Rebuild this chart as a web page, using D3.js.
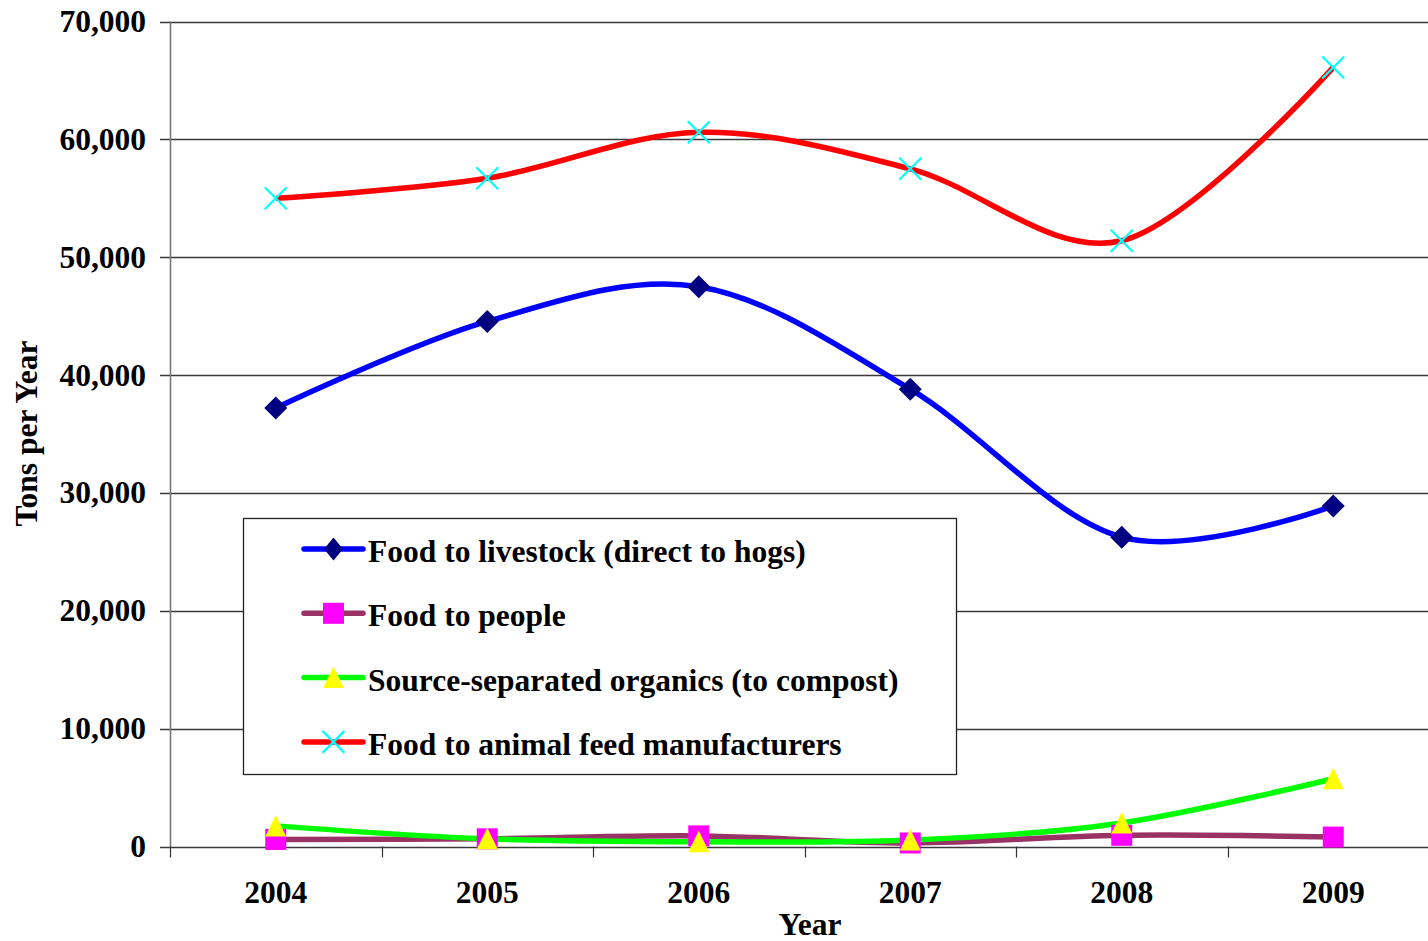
<!DOCTYPE html>
<html>
<head>
<meta charset="utf-8">
<script src="https://cdn.jsdelivr.net/npm/d3@7"></script>
<style>
  html, body { margin: 0; padding: 0; background: #fff; }
  svg { display: block; }
  text { font-family: "Liberation Serif", "Times New Roman", serif; font-weight: bold; fill: #000; }
</style>
</head>
<body>
<svg id="chart" width="1428" height="941"></svg>
<script>
// Food waste diversion, tons per year
const years = ["2004", "2005", "2006", "2007", "2008", "2009"];
const livestock = [37200, 44550, 47500, 38800, 26250, 28900];
const people = [600, 650, 900, 300, 950, 800];
const compost = [1750, 650, 400, 550, 2000, 5750];
const animalFeed = [55000, 56700, 60600, 57500, 51400, 66100];
const yTicks = [0, 10000, 20000, 30000, 40000, 50000, 60000, 70000];
const seriesNames = [
  "Food to livestock (direct to hogs)",
  "Food to people",
  "Source-separated organics (to compost)",
  "Food to animal feed manufacturers"
];

const series = [
  { name: seriesNames[0], values: livestock, line: "#0000ff", marker: "diamond", fill: "#000080" },
  { name: seriesNames[1], values: people, line: "#993366", marker: "square", fill: "#ff00ff" },
  { name: seriesNames[2], values: compost, line: "#00ff00", marker: "triangle", fill: "#ffff00" },
  { name: seriesNames[3], values: animalFeed, line: "#ff0000", marker: "cross", fill: "#00ffff" }
];

const FONT = 31.5;
const svg = d3.select("#chart");
const plotLeft = 170, plotRight = 1439, plotTop = 21.5, plotBottom = 846.5;

const x = d3.scaleBand().domain(years).range([plotLeft, plotRight]);
const cx = d => x(d) + x.bandwidth() / 2;
const y = d3.scaleLinear().domain([0, 70000]).range([plotBottom, plotTop]);

// horizontal gridlines with small outer ticks
const grid = svg.append("g");
grid.selectAll("line").data(yTicks).join("line")
  .attr("x1", plotLeft - 10).attr("x2", 1428)
  .attr("y1", d => Math.round(y(d)) + 0.5).attr("y2", d => Math.round(y(d)) + 0.5)
  .attr("stroke", "#3a3a3a").attr("stroke-width", 1.3);

// y axis labels
const fmt = d3.format(",");
svg.append("g").selectAll("text").data(yTicks).join("text")
  .attr("x", 146).attr("y", d => y(d) + 10.5)
  .attr("text-anchor", "end").attr("font-size", FONT)
  .text(d => fmt(d));

// vertical axis line
svg.append("line")
  .attr("x1", plotLeft + 0.5).attr("x2", plotLeft + 0.5)
  .attr("y1", plotTop).attr("y2", plotBottom + 1)
  .attr("stroke", "#777").attr("stroke-width", 1.6);

// x axis ticks between categories
const bounds = years.map(d => x(d)).concat([plotRight]);
svg.append("g").selectAll("line").data(bounds).join("line")
  .attr("x1", d => Math.round(d) + 0.5).attr("x2", d => Math.round(d) + 0.5)
  .attr("y1", plotBottom).attr("y2", plotBottom + 11)
  .attr("stroke", "#333").attr("stroke-width", 1.2);

svg.append("g").selectAll("text").data(years).join("text")
  .attr("x", d => cx(d)).attr("y", 903)
  .attr("text-anchor", "middle").attr("font-size", FONT)
  .text(d => d);

// axis titles
svg.append("text").attr("x", 810).attr("y", 935)
  .attr("text-anchor", "middle").attr("font-size", FONT).text("Year");
svg.append("text")
  .attr("transform", "translate(37,433.5) rotate(-90)")
  .attr("text-anchor", "middle").attr("font-size", FONT).text("Tons per Year");

// legend box (drawn beneath the series lines)
const legend = svg.append("g");
legend.append("rect")
  .attr("x", 243.5).attr("y", 518.5).attr("width", 713).attr("height", 256)
  .attr("fill", "#fff").attr("stroke", "#222").attr("stroke-width", 1.3);

// marker shapes
function drawMarker(g, type, fill, w) {
  const hw = w || 11.5;
  if (type === "diamond") {
    g.append("path").attr("d", `M0,-11.5L${hw},0L0,11.5L${-hw},0Z`).attr("fill", fill);
  } else if (type === "square") {
    g.append("rect").attr("x", -10.5).attr("y", -10.5).attr("width", 21).attr("height", 21).attr("fill", fill);
  } else if (type === "triangle") {
    g.append("path").attr("d", "M0,-11L10.5,10.5L-10.5,10.5Z").attr("fill", fill);
  } else if (type === "cross") {
    g.append("path").attr("d", "M-11,-11L11,11M11,-11L-11,11")
      .attr("stroke", fill).attr("stroke-width", 2.2).attr("fill", "none");
  }
}

// smoothed series lines
const lineGen = d3.line()
  .x((d, i) => cx(years[i]))
  .y(d => y(d))
  .curve(d3.curveCardinal.tension(0));

series.forEach(s => {
  svg.append("path").datum(s.values)
    .attr("d", lineGen)
    .attr("fill", "none").attr("stroke", s.line)
    .attr("stroke-width", 5.5).attr("stroke-linejoin", "round");
});
series.forEach(s => {
  const mg = svg.append("g");
  s.values.forEach((v, i) => {
    const g = mg.append("g").attr("transform", `translate(${cx(years[i])},${y(v)})`);
    drawMarker(g, s.marker, s.fill);
  });
});

// legend entries
series.forEach((s, i) => {
  const cy = 549 + i * 64.3;
  const row = legend.append("g");
  row.append("line").attr("x1", 304).attr("x2", 363).attr("y1", cy).attr("y2", cy)
    .attr("stroke", s.line).attr("stroke-width", 5.5).attr("stroke-linecap", "round");
  const m = row.append("g").attr("transform", `translate(333.5,${cy})`);
  drawMarker(m, s.marker, s.fill, 9.5);
  row.append("text").attr("x", 368).attr("y", cy + 13)
    .attr("font-size", FONT).text(s.name);
});
</script>
</body>
</html>
